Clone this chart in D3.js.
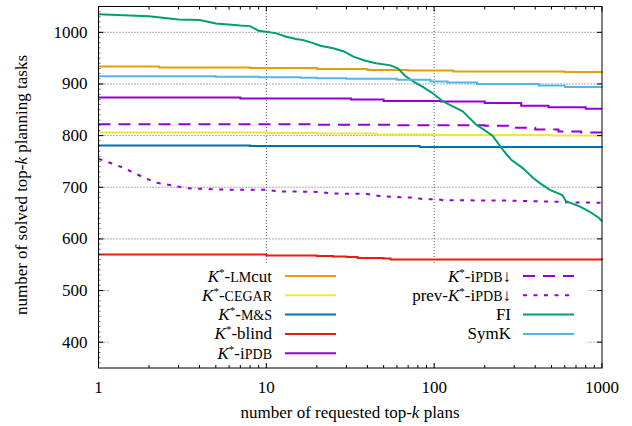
<!DOCTYPE html>
<html>
<head>
<meta charset="utf-8">
<script src="https://cdn.jsdelivr.net/npm/d3@7"></script>
<style>
  body { margin: 0; background: #fff; }
  svg { font-family: "Liberation Serif", "Times New Roman", Times, serif; }
</style>
</head>
<body>
<div id="chart"></div>
<script>
width = 632;
height = 426;

// data, [k, solved tasks]
var lmcut = [[1,934],[2.3,932],[8,931],[20,929],[40,927],[70,926],[130,924],[600,923],[1000,922]];
var cegar = [[1,806],[10,805],[20,804],[45,802],[100,801],[500,800],[1000,800]];
var mas = [[1,781],[7,781],[8,780],[80,780],[82,778],[1000,777]];
var blind = [[1,570],[10,568],[20,567],[25,566],[30,565],[35,563],[50,562],[55,560],[1000,559]];
var ipdb = [[1,874],[6,874],[7,872],[30,872],[32,870],[50,867],[110,866],[200,863],[330,858],[480,855],[800,852],[1000,852]];
var ipdbDown = [[1,822],[20,821],[60,820],[200,819],[300,815],[400,812],[550,808],[750,806],[1000,806]];
var prevIpdbDown = [[1,755],[1.2,746],[1.4,738],[1.8,721],[2.2,709],[2.8,703],[3.4,698],[4.2,697],[6,695],[10,695],[12,692],[20,691],[25,688],[40,687],[47,683],[60,681],[75,680],[86,677],[105,677],[113,675],[300,674],[390,673],[550,672],[580,671],[1000,670]];
var fi = [[1,1035],[2,1031],[3,1025],[4,1024],[5,1017],[7,1013],[8,1012],[9,1003],[10,1001],[11.5,998],[13,992],[15,987],[16.5,985],[19,979],[21,974],[25,969],[29,963],[33,953],[39,945],[45,940],[55,936],[61,930],[67,916],[75,905],[86,894],[98,882],[113,866],[130,856],[148,847],[178,821],[199,811],[224,799],[256,773],[288,753],[337,737],[389,718],[426,708],[489,695],[580,685],[610,673],[735,663],[841,653],[965,640],[1000,634]];
var symk = [[1,915],[5,914],[9,913],[16,912],[20,911],[30,910],[60,908],[95,905],[120,903],[180,900],[420,897],[600,894],[1000,893]];

var xTicks = [1, 10, 100, 1000];
var yTicks = [400, 500, 600, 700, 800, 900, 1000];

var series = [
  {name: "lmcut", data: lmcut, color: "#e69f00", dash: null},
  {name: "cegar", data: cegar, color: "#f0e442", dash: null},
  {name: "mas", data: mas, color: "#0072b2", dash: null},
  {name: "blind", data: blind, color: "#e51e10", dash: null},
  {name: "ipdb", data: ipdb, color: "#9400d3", dash: null},
  {name: "ipdbDown", data: ipdbDown, color: "#9400d3", dash: "12,8"},
  {name: "prev", data: prevIpdbDown, color: "#9400d3", dash: "4,6.5"},
  {name: "fi", data: fi, color: "#009e73", dash: null},
  {name: "symk", data: symk, color: "#56b4e9", dash: null}
];

// legend labels: [text, style] pieces; it = italic, sc = small caps, sup = superscript
var K = [["K", "it"], ["*", "sup"], ["-", "down"]];
var labels = {
  lmcut: K.concat([["LM", "sc"], ["cut", ""]]),
  cegar: K.concat([["CEGAR", "sc"]]),
  mas: K.concat([["M&S", "sc"]]),
  blind: K.concat([["blind", ""]]),
  ipdb: K.concat([["i", ""], ["PDB", "sc"]]),
  ipdbDown: K.concat([["i", ""], ["PDB", "sc"], ["\u2193", ""]]),
  prev: [["prev-", ""]].concat(K, [["i", ""], ["PDB", "sc"], ["\u2193", ""]]),
  fi: [["FI", ""]],
  symk: [["SymK", ""]]
};

var margin = {left: 98.5, right: 30, top: 6.5, bottom: 58};

const svg = d3.select("#chart")
              .append("svg")
              .attr("width", width)
              .attr("height", height);

var x = d3.scaleLog().domain([1, 1000]).range([margin.left, width - margin.right]);
var y = d3.scaleLinear().domain([350, 1050]).range([height - margin.bottom, margin.top]);

var x0 = x.range()[0], x1 = x.range()[1], y0 = y.range()[0], y1 = y.range()[1];

// grid
var grid = svg.append("g").attr("stroke", "#333").attr("stroke-width", 0.8).attr("stroke-dasharray", "1,2");
grid.selectAll(".gy").data(yTicks).enter().append("line")
    .attr("x1", x0).attr("x2", x1)
    .attr("y1", function(d) { return y(d); }).attr("y2", function(d) { return y(d); });
grid.selectAll(".gx").data([10, 100]).enter().append("line")
    .attr("y1", y0).attr("y2", y1)
    .attr("x1", function(d) { return x(d); }).attr("x2", function(d) { return x(d); });

// legend box hides the grid
svg.append("rect")
    .attr("x", 109).attr("y", 264)
    .attr("width", 479).attr("height", 99)
    .attr("fill", "#fff");

// lines
var step = d3.line()
    .x(function(d) { return x(d[0]); })
    .y(function(d) { return y(d[1]); })
    .curve(d3.curveStepAfter);
var smooth = d3.line()
    .x(function(d) { return x(d[0]); })
    .y(function(d) { return y(d[1]); });

svg.append("g")
    .selectAll("path")
    .data(series)
    .enter().append("path")
      .attr("fill", "none")
      .attr("stroke", function(d) { return d.color; })
      .attr("stroke-width", 2)
      .attr("stroke-dasharray", function(d) { return d.dash; })
      .attr("d", function(d) { return d.name == "fi" || d.name == "prev" ? smooth(d.data) : step(d.data); });

// frame and ticks
var ax = svg.append("g").attr("stroke", "#000").attr("stroke-width", 1);
ax.append("rect").attr("x", x0).attr("y", y1).attr("width", x1 - x0).attr("height", y0 - y1).attr("fill", "none");

var minorX = [];
[1, 10, 100].forEach(function(dec) { for (var i = 2; i < 10; i++) minorX.push(dec * i); });

ax.selectAll(".tx").data(xTicks).enter().append("path")
    .attr("d", function(d) { var px = x(d); return "M" + px + "," + y0 + "v-5M" + px + "," + y1 + "v5"; });
ax.selectAll(".mx").data(minorX).enter().append("path")
    .attr("d", function(d) { var px = x(d); return "M" + px + "," + y0 + "v-3M" + px + "," + y1 + "v3"; });
ax.selectAll(".ty").data(yTicks).enter().append("path")
    .attr("d", function(d) { var py = y(d); return "M" + x0 + "," + py + "h5M" + x1 + "," + py + "h-5"; });
ax.selectAll(".my").data(d3.range(360, 1050, 10)).enter().append("path")
    .attr("stroke-width", 0.6)
    .attr("d", function(d) { var py = y(d); return "M" + x0 + "," + py + "h2"; });

// tick labels
svg.selectAll(".xl").data(xTicks).enter().append("text")
    .attr("x", function(d) { return x(d); })
    .attr("y", 392.5)
    .attr("text-anchor", "middle")
    .attr("font-size", 17)
    .text(function(d) { return d; });
svg.selectAll(".yl").data(yTicks).enter().append("text")
    .attr("x", 87.5)
    .attr("y", function(d) { return y(d) + 5.5; })
    .attr("text-anchor", "end")
    .attr("font-size", 17)
    .text(function(d) { return d; });

// axis titles
var xt = svg.append("text").attr("x", 350).attr("y", 418).attr("text-anchor", "middle").attr("font-size", 17);
xt.append("tspan").text("number of requested top-");
xt.append("tspan").attr("font-style", "italic").text("k");
xt.append("tspan").text(" plans");

var yt = svg.append("text").attr("transform", "translate(27,185) rotate(-90)").attr("text-anchor", "middle").attr("font-size", 17);
yt.append("tspan").text("number of solved top-");
yt.append("tspan").attr("font-style", "italic").text("k");
yt.append("tspan").text(" planning tasks");

// legend
var rowY = [276, 295.3, 314.6, 333.9, 353.2];
var legend = svg.append("g").attr("font-size", 17);

series.forEach(function(s, i) {
  var col = i < 5 ? 0 : 1;
  var row = col == 0 ? i : i - 5;
  var tx = col == 0 ? 272 : 511;
  var lx = col == 0 ? 285 : 523;
  var ly = rowY[row];
  var t = legend.append("text").attr("x", tx).attr("y", ly + 5.5).attr("text-anchor", "end");
  labels[s.name].forEach(function(p) {
    var ts = t.append("tspan").text(p[0]);
    if (p[1] == "it") ts.attr("font-style", "italic");
    if (p[1] == "sc") ts.attr("font-size", 14);
    if (p[1] == "sup") ts.attr("font-size", 11).attr("dy", -6);
    if (p[1] == "down") ts.attr("dy", 6);
  });
  legend.append("line")
    .attr("x1", lx).attr("x2", lx + 51)
    .attr("y1", ly).attr("y2", ly)
    .attr("stroke", s.color)
    .attr("stroke-width", 2)
    .attr("stroke-dasharray", s.dash);
});
</script>
</body>
</html>
